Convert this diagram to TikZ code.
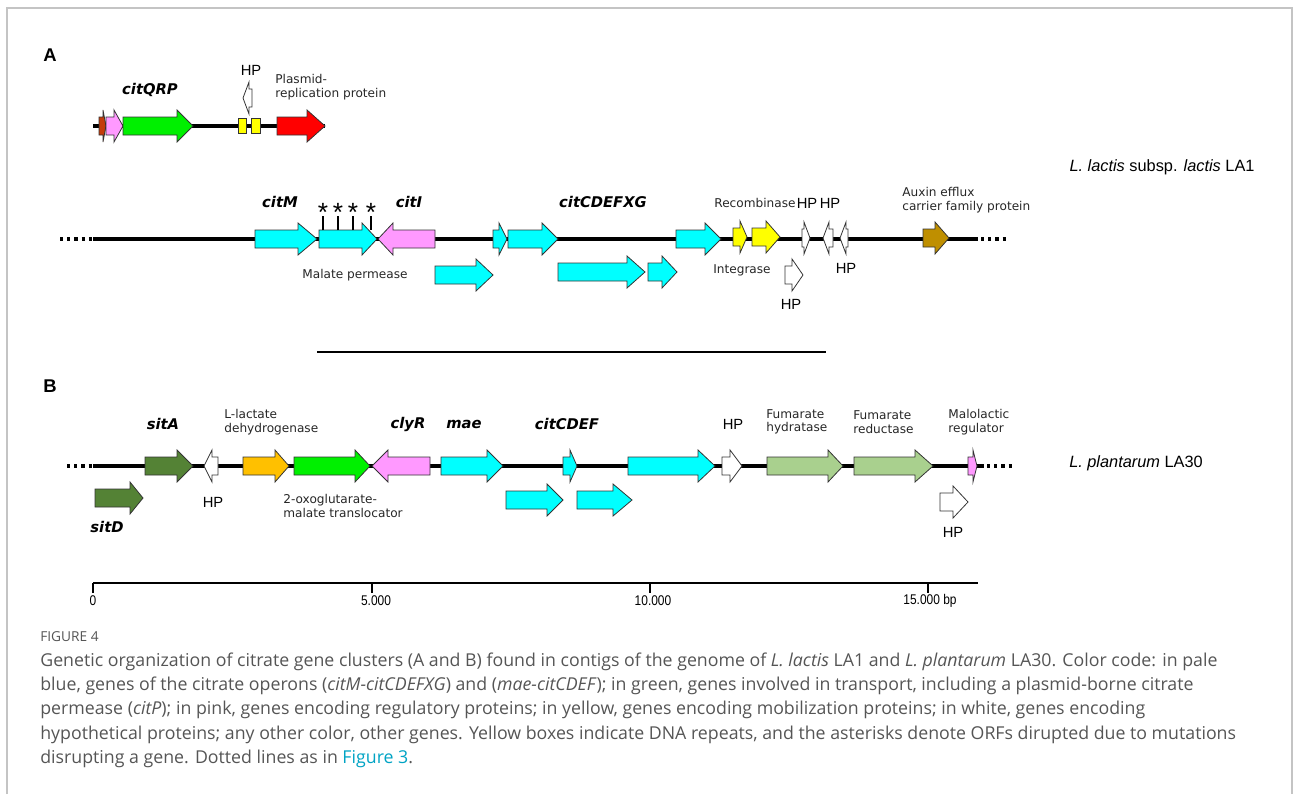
\documentclass[tikz,border=0pt]{standalone}
\usepackage{fontspec}
\setmainfont{Liberation Sans}
\newfontfamily\verd{DejaVu Sans}
\newfontfamily\capfont{Open Sans}
\usepackage{tikz}
\usepackage{xcolor}

\definecolor{cyanc}{HTML}{00FFFF}
\definecolor{pinkc}{HTML}{FF99FF}
\definecolor{limec}{HTML}{00F000}
\definecolor{yelc}{HTML}{FFFF00}
\definecolor{redc}{HTML}{FF0000}
\definecolor{rustc}{HTML}{C43C0A}
\definecolor{brownc}{HTML}{BF8F00}
\definecolor{dgreenc}{HTML}{548235}
\definecolor{orangec}{HTML}{FFC000}
\definecolor{lgreenc}{HTML}{A9D08E}
\definecolor{capgray}{HTML}{555555}
\definecolor{linkc}{HTML}{00A3C4}
\definecolor{framec}{HTML}{C4C4C4}

% gene arrow: [head length]{from}{to}{y}{fill}
\newcommand{\genearrow}[5][18]{%
  \pgfmathsetmacro{\hd}{#1*((#3>#2)*2-1)}%
  \draw[genebox, fill=#5] (#2,#4-9) -- ({#3-\hd},#4-9) -- ({#3-\hd},#4-16) -- (#3,#4)
    -- ({#3-\hd},#4+16) -- ({#3-\hd},#4+9) -- (#2,#4+9) -- cycle;}

\begin{document}
\begin{tikzpicture}[x=0.02cm, y=-0.02cm,
    genebox/.style={draw=black!80, line width=0.45pt},
    genome/.style={line width=2pt},
    dotline/.style={line width=2pt, dash pattern=on 1.8pt off 2.3pt},
    genelab/.style={font=\verd\bfseries\itshape\fontsize{8.4}{9}\selectfont},
    smalllab/.style={font=\verd\fontsize{6.9}{7.6}\selectfont, text=black!85, align=left, anchor=west, inner sep=0pt},
    hplab/.style={font=\fontsize{8.4}{9}\selectfont, inner sep=0pt},
    paneltag/.style={font=\bfseries\fontsize{10.5}{12}\selectfont, inner sep=0pt},
    caption/.style={font=\capfont\fontsize{10.1}{11}\selectfont, text=capgray, anchor=west, inner sep=0pt}]

    \useasboundingbox (0,0) rectangle (1293,794);
    % frame
    \draw[framec, line width=1.2pt] (7,794) -- (7,8) -- (1292,8) -- (1292,794);

    % ---------- panel A ----------
    \node[paneltag] (tagA) at (50,55) {A};

    % plasmid
    \draw[genome] (93,126) -- (325,126);
    \genearrow[3]{99}{106}{126}{rustc}
    \genearrow[9]{106}{123}{126}{pinkc}
    \genearrow[16]{123}{193}{126}{limec}
    \draw[genebox, fill=yelc] (238,118) rectangle (246,133);
    \draw[genebox, fill=yelc] (251,118) rectangle (260,133);
    \genearrow[6]{252}{243}{98}{white}
    \genearrow[18]{277}{325}{126}{redc}
    \node[genelab] (citqrp) at (150,90) {citQRP};
    \node[hplab] (hpplas) at (251,70) {HP};
    \node[smalllab] (plasrep) at (275,87) {Plasmid-\\replication protein};

    % chromosome of LA1
    \draw[dotline] (60,239) -- (92,239);
    \draw[genome] (93,239) -- (978,239);
    \draw[dotline] (981,239) -- (1008,239);
    \genearrow[19]{255}{317}{239}{cyanc}
    \genearrow[15]{319}{377}{239}{cyanc}
    \genearrow[15]{435}{378}{239}{pinkc}
    \genearrow[17]{435}{493}{275}{cyanc}
    \genearrow[8]{493}{507}{239}{cyanc}
    \genearrow[16]{508}{558}{239}{cyanc}
    \genearrow[18]{558}{645}{272}{cyanc}
    \genearrow[15]{648}{677}{272}{cyanc}
    \genearrow[16]{676}{721}{239}{cyanc}
    \genearrow[7]{733}{747}{237}{yelc}
    \genearrow[14]{752}{780}{237}{yelc}
    \genearrow[6]{802}{810}{238}{white}
    \genearrow[6]{833}{823}{238}{white}
    \genearrow[6]{848}{840}{238}{white}
    \genearrow[11]{785}{803}{275}{white}
    \genearrow[14]{923}{949}{238}{brownc}

    % disrupted ORFs
    \foreach \xs [count=\k] in {323,338,353,371}{
        \node[font=\fontsize{15}{15}\selectfont, inner sep=0pt] (ast\k) at (\xs,212) {*};
        \draw[line width=0.8pt] (\xs,230) -- (\xs,216);
    }

    \node[genelab] (citm) at (280,202) {citM};
    \node[genelab] (citi) at (409,202) {citI};
    \node[genelab] (citcdefxg) at (603,202) {citCDEFXG};
    \node[font=\verd\fontsize{6.9}{7.6}\selectfont, text=black!85, inner sep=0pt] (malperm) at (355,275) {Malate permease};
    \node[smalllab] (recomb) at (714,203) {Recombinase};
    \node[hplab] (hpa1) at (807,203) {HP};
    \node[hplab] (hpa2) at (830,203) {HP};
    \node[smalllab] (auxin) at (902,200) {Auxin efflux\\carrier family protein};
    \node[font=\verd\fontsize{6.9}{7.6}\selectfont, text=black!85, inner sep=0pt] (integr) at (742,270) {Integrase};
    \node[hplab] (hpa3) at (791,304) {HP};
    \node[hplab] (hpa4) at (846,268) {HP};
    \node[font=\fontsize{9.3}{10}\selectfont, inner sep=0pt] (strainA) at (1162,167) {\textit{L. lactis} subsp. \textit{lactis} LA1};

    \draw[line width=0.6pt] (317,352) -- (826,352);

    % ---------- panel B ----------
    \node[paneltag] (tagB) at (50,386) {B};

    \draw[dotline] (67,466) -- (92,466);
    \draw[genome] (93,466) -- (984,466);
    \draw[dotline] (987,466) -- (1013,466);
    \genearrow[16]{145}{193}{466}{dgreenc}
    \genearrow[8]{218}{204}{466}{white}
    \genearrow[13]{95}{143}{498}{dgreenc}
    \genearrow[14]{243}{289}{466}{orangec}
    \genearrow[15]{294}{370}{466}{limec}
    \genearrow[16]{430}{372}{466}{pinkc}
    \genearrow[16]{441}{503}{466}{cyanc}
    \genearrow[16]{506}{563}{500}{cyanc}
    \genearrow[19]{577}{632}{500}{cyanc}
    \genearrow[7]{563}{577}{466}{cyanc}
    \genearrow[17]{628}{715}{466}{cyanc}
    \genearrow[12]{722}{742}{466}{white}
    \genearrow[15]{767}{843}{466}{lgreenc}
    \genearrow[18]{854}{933}{466}{lgreenc}
    \genearrow[4]{968}{977}{466}{pinkc}
    \genearrow[15]{940}{968}{502}{white}

    \node[genelab] (sita) at (163,424) {sitA};
    \node[hplab] (hpb1) at (213,502) {HP};
    \node[genelab] (sitd) at (107,527) {sitD};
    \node[smalllab] (ldh) at (224,422) {L-lactate\\dehydrogenase};
    \node[genelab] (clyr) at (408,424) {clyR};
    \node[genelab] (mae) at (464,424) {mae};
    \node[smalllab] (oxo) at (283,506) {2-oxoglutarate-\\malate translocator};
    \node[genelab] (citcdef) at (567,424) {citCDEF};
    \node[hplab] (hpb2) at (733,424) {HP};
    \node[smalllab] (fumh) at (766,422) {Fumarate\\hydratase};
    \node[smalllab] (fumr) at (853,422) {Fumarate\\reductase};
    \node[smalllab] (malreg) at (948,422) {Malolactic\\regulator};
    \node[hplab] (hpb3) at (953,532) {HP};
    \node[font=\fontsize{9.3}{10}\selectfont, inner sep=0pt] (strainB) at (1136,463) {\textit{L. plantarum} LA30};

    % ---------- scale ----------
    \draw[line width=0.6pt] (93,583) -- (978,583);
    \foreach \xt/\lab/\xl [count=\k] in {93/0/93,372/5.000/376,650/10.000/653,928/15.000 bp/930}{
        \draw[line width=0.6pt] (\xt,583) -- (\xt,593);
        \node[font=\fontsize{8}{8}\selectfont, inner sep=0pt, xscale=0.85] (tick\k) at (\xl,601) {\lab};
    }

    % ---------- caption ----------
    \node[caption, font=\capfont\fontsize{7.8}{10}\selectfont] (figno) at (40,637) {FIGURE 4};
    \node[caption] (cap1) at (40,662) {Genetic organization of citrate gene clusters (A and B) found in contigs of the genome of \textit{L. lactis} LA1 and \textit{L. plantarum} LA30. Color code: in pale};
    \node[caption] (cap2) at (40,686) {blue, genes of the citrate operons (\textit{citM-citCDEFXG}) and (\textit{mae-citCDEF}); in green, genes involved in transport, including a plasmid-borne citrate};
    \node[caption] (cap3) at (40,710) {permease (\textit{citP}); in pink, genes encoding regulatory proteins; in yellow, genes encoding mobilization proteins; in white, genes encoding};
    \node[caption] (cap4) at (40,735) {hypothetical proteins; any other color, other genes. Yellow boxes indicate DNA repeats, and the asterisks denote ORFs dirupted due to mutations};
    \node[caption] (cap5) at (40,759) {disrupting a gene. Dotted lines as in \textcolor{linkc}{Figure 3}.};
\end{tikzpicture}
\end{document}
